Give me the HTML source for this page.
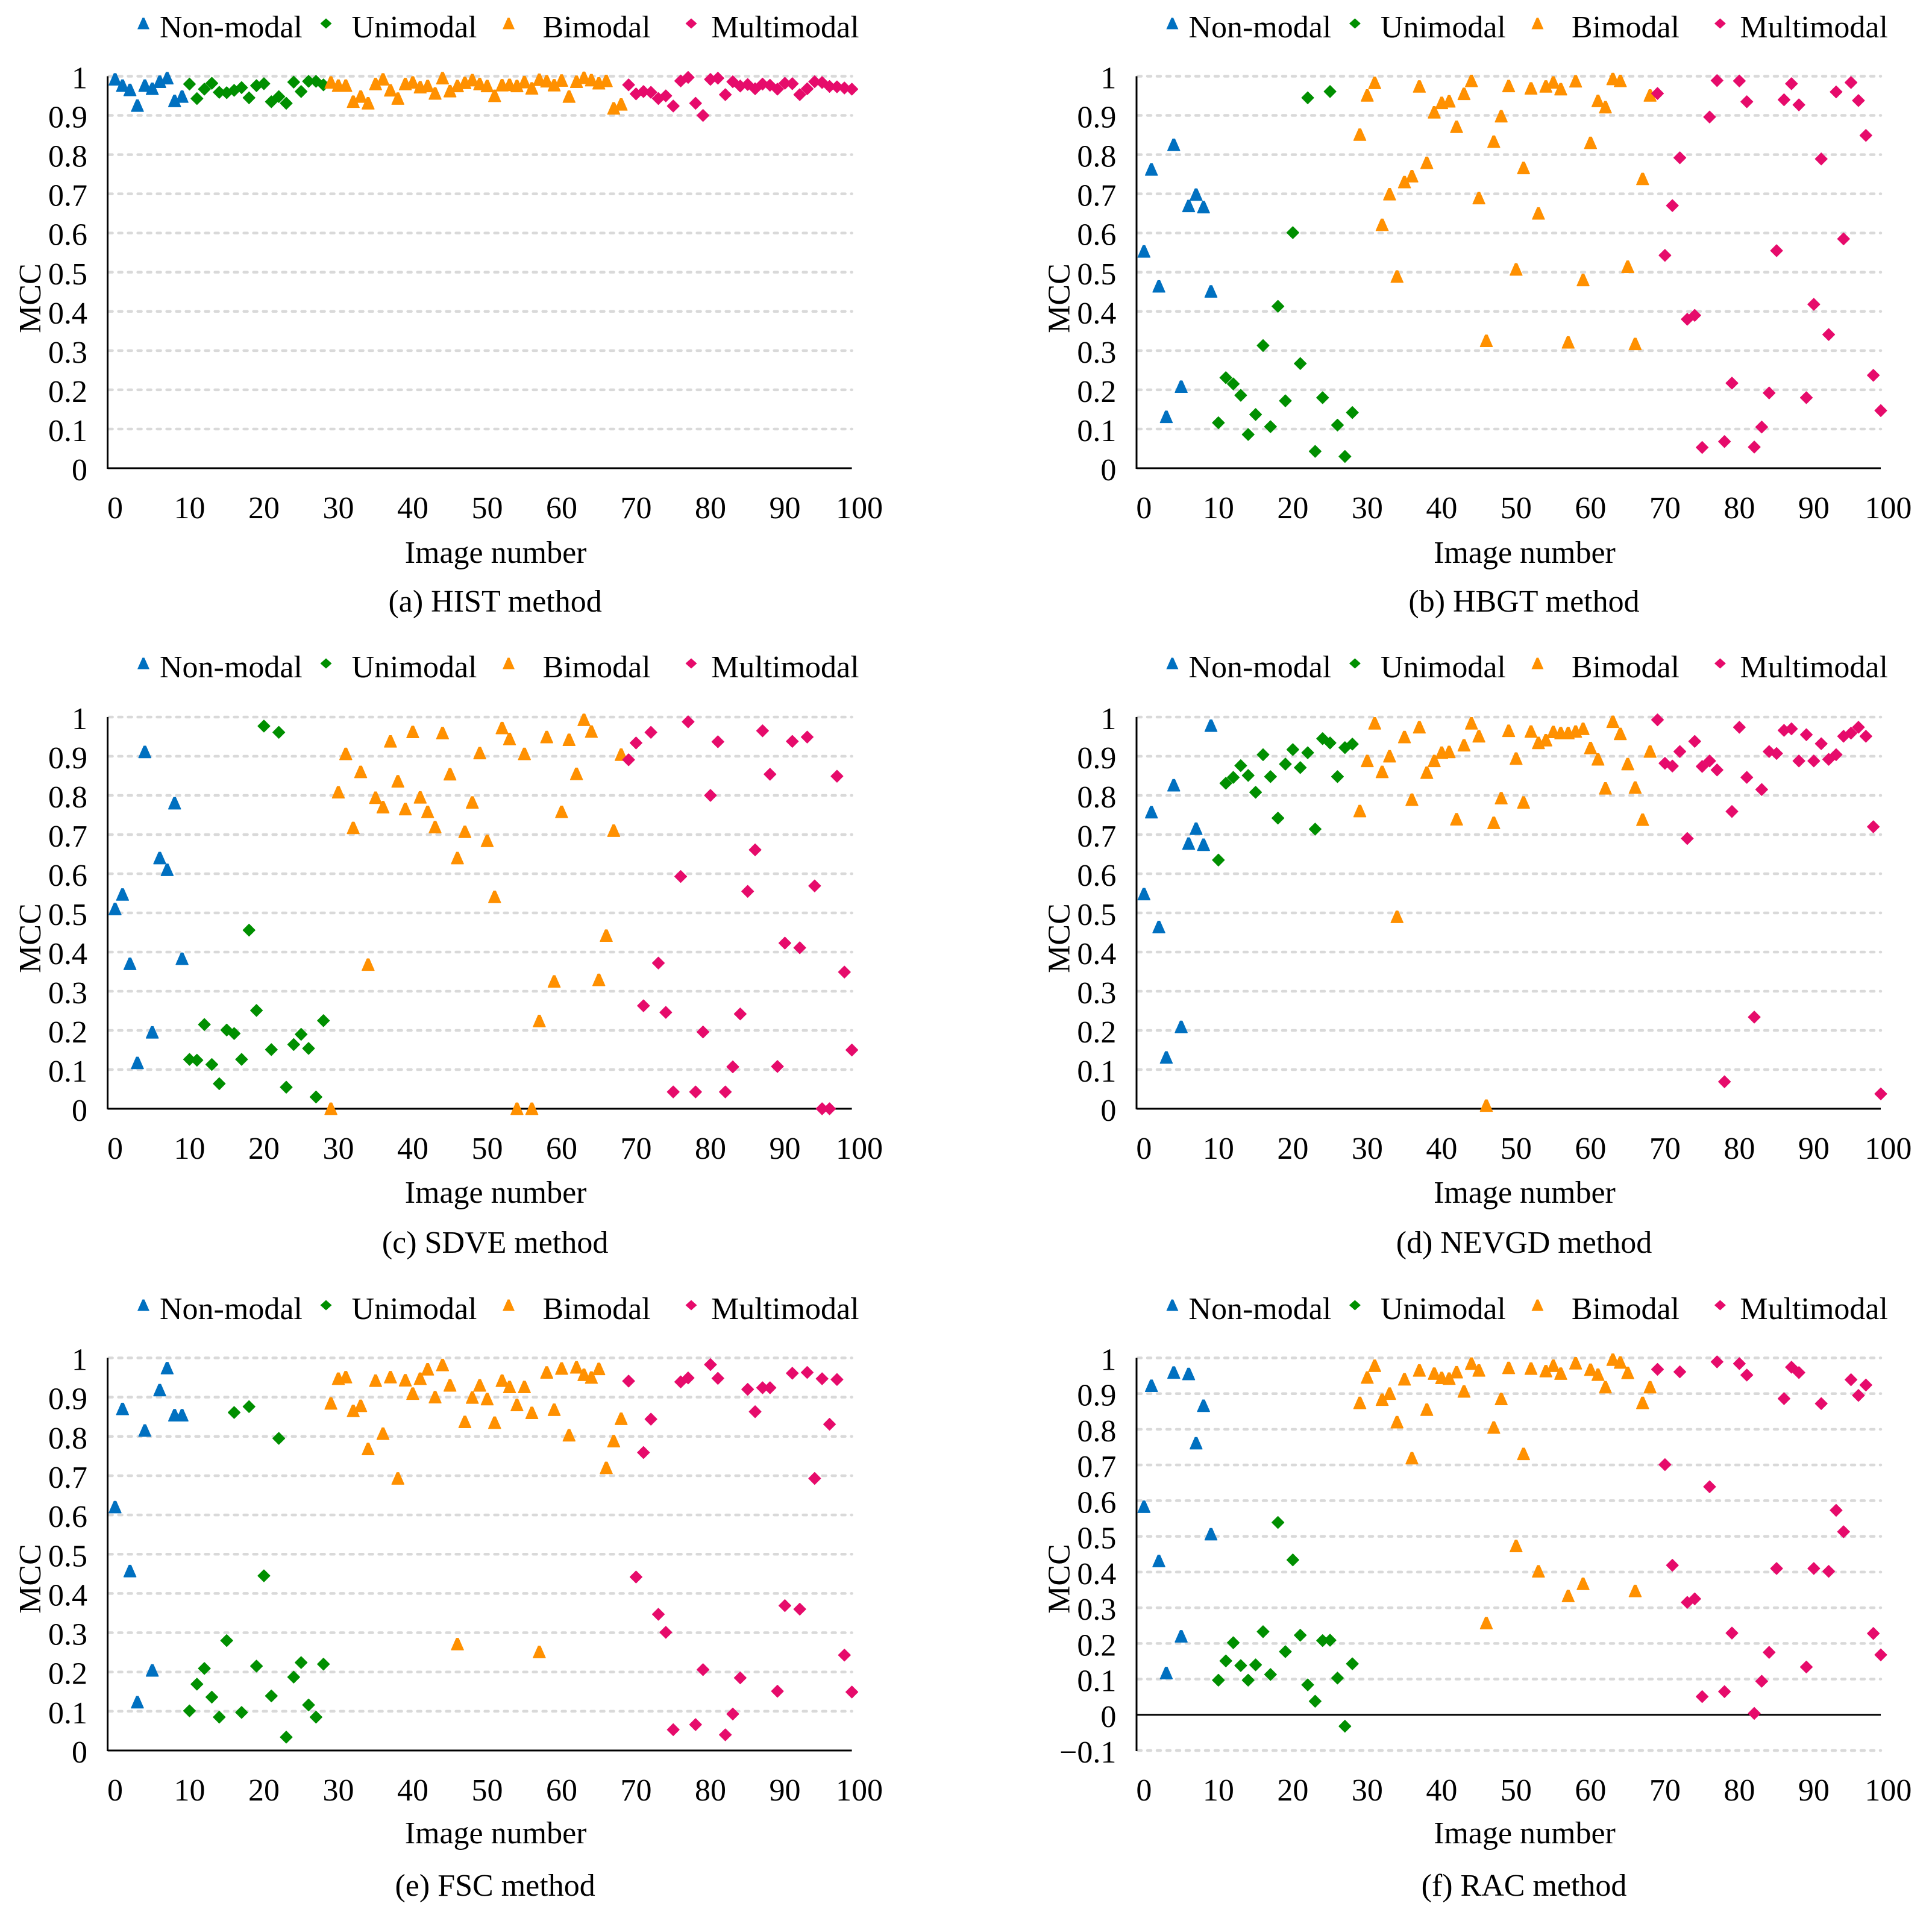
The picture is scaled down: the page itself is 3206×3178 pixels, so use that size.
<!DOCTYPE html>
<html lang="en">
<head>
<meta charset="utf-8">
<title>MCC per image for six thresholding methods</title>
<style>
html,body{margin:0;padding:0;background:#fff;}
svg{display:block;}
text{font-family:"Liberation Serif","Times New Roman",serif;font-size:52px;fill:#000;}
</style>
</head>
<body>
<svg id="figure" xmlns="http://www.w3.org/2000/svg" width="3206" height="3178" viewBox="0 0 3206 3178"></svg>
<script>
const xTickLabels = [0,10,20,30,40,50,60,70,80,90,100];
const yTicksStandard = [0,0.1,0.2,0.3,0.4,0.5,0.6,0.7,0.8,0.9,1];
const yTicksRac = [-0.1,0,0.1,0.2,0.3,0.4,0.5,0.6,0.7,0.8,0.9,1];

const seriesNames = ["Non-modal","Unimodal","Bimodal","Multimodal"];
const seriesFirstImage = [0,10,29,69];

const histNonModal = [0.992,0.976,0.965,0.925,0.976,0.968,0.986,0.995,0.937,0.948];
const histUnimodal = [0.98,0.943,0.967,0.982,0.959,0.958,0.964,0.971,0.945,0.976,0.981,0.935,0.948,0.931,0.985,0.961,0.987,0.987,0.978];
const histBimodal = [0.984,0.976,0.976,0.935,0.948,0.931,0.98,0.992,0.964,0.943,0.98,0.984,0.972,0.975,0.956,0.995,0.962,0.975,0.983,0.99,0.98,0.975,0.95,0.977,0.978,0.975,0.985,0.969,0.991,0.987,0.977,0.989,0.948,0.986,0.996,0.99,0.982,0.988,0.918,0.928];
const histMultimodal = [0.978,0.955,0.961,0.959,0.943,0.95,0.924,0.988,0.997,0.931,0.9,0.992,0.995,0.953,0.986,0.975,0.979,0.968,0.98,0.977,0.967,0.982,0.981,0.953,0.968,0.986,0.984,0.974,0.973,0.97,0.967];

const hbgtNonModal = [0.553,0.762,0.464,0.131,0.825,0.208,0.669,0.698,0.666,0.451];
const hbgtUnimodal = [0.116,0.231,0.215,0.186,0.086,0.137,0.313,0.106,0.413,0.172,0.601,0.267,0.945,0.043,0.18,0.961,0.11,0.03,0.142];
const hbgtBimodal = [0.851,0.951,0.983,0.621,0.699,0.489,0.73,0.745,0.974,0.779,0.908,0.932,0.936,0.871,0.955,0.988,0.689,0.325,0.833,0.898,0.975,0.507,0.766,0.969,0.65,0.974,0.984,0.967,0.321,0.987,0.48,0.83,0.937,0.921,0.993,0.988,0.514,0.317,0.738,0.951];
const hbgtMultimodal = [0.956,0.543,0.67,0.792,0.38,0.39,0.053,0.896,0.989,0.068,0.217,0.988,0.935,0.054,0.105,0.192,0.555,0.94,0.981,0.927,0.18,0.418,0.789,0.341,0.96,0.585,0.984,0.938,0.849,0.237,0.147];

const sdveNonModal = [0.51,0.547,0.37,0.117,0.911,0.195,0.64,0.61,0.78,0.383];
const sdveUnimodal = [0.126,0.124,0.215,0.113,0.064,0.201,0.192,0.126,0.456,0.251,0.977,0.151,0.961,0.055,0.164,0.19,0.154,0.03,0.225];
const sdveBimodal = [0,0.808,0.906,0.717,0.86,0.368,0.794,0.77,0.938,0.836,0.765,0.962,0.795,0.758,0.719,0.959,0.854,0.64,0.707,0.782,0.908,0.684,0.541,0.972,0.944,0,0.906,0,0.224,0.949,0.325,0.758,0.942,0.855,0.993,0.963,0.329,0.442,0.71,0.904];
const sdveMultimodal = [0.891,0.934,0.263,0.961,0.372,0.246,0.043,0.593,0.988,0.043,0.196,0.8,0.937,0.043,0.107,0.242,0.555,0.661,0.965,0.854,0.108,0.423,0.938,0.411,0.949,0.569,0,0,0.849,0.349,0.15];

const nevgdNonModal = [0.548,0.757,0.464,0.131,0.826,0.209,0.677,0.715,0.674,0.978];
const nevgdUnimodal = [0.635,0.831,0.846,0.876,0.851,0.808,0.904,0.848,0.742,0.88,0.917,0.871,0.909,0.714,0.945,0.934,0.848,0.922,0.931];
const nevgdBimodal = [0.76,0.888,0.984,0.86,0.9,0.49,0.949,0.789,0.974,0.858,0.888,0.909,0.911,0.739,0.928,0.984,0.951,0.008,0.73,0.793,0.965,0.894,0.782,0.963,0.934,0.941,0.962,0.959,0.959,0.963,0.97,0.921,0.892,0.818,0.988,0.957,0.88,0.82,0.738,0.912];
const nevgdMultimodal = [0.993,0.882,0.875,0.912,0.69,0.938,0.874,0.888,0.865,0.069,0.759,0.974,0.846,0.234,0.815,0.912,0.907,0.966,0.97,0.888,0.955,0.888,0.932,0.892,0.904,0.951,0.959,0.974,0.951,0.72,0.038];

const fscNonModal = [0.62,0.87,0.457,0.123,0.815,0.204,0.918,0.974,0.854,0.854];
const fscUnimodal = [0.101,0.169,0.209,0.136,0.085,0.28,0.861,0.097,0.876,0.215,0.445,0.139,0.795,0.034,0.187,0.224,0.116,0.085,0.22];
const fscBimodal = [0.884,0.947,0.951,0.865,0.878,0.768,0.942,0.807,0.951,0.693,0.943,0.909,0.947,0.971,0.9,0.982,0.93,0.271,0.837,0.899,0.93,0.895,0.835,0.942,0.926,0.88,0.926,0.86,0.251,0.963,0.868,0.973,0.803,0.976,0.957,0.95,0.972,0.72,0.788,0.845];
const fscMultimodal = [0.941,0.442,0.759,0.844,0.347,0.301,0.053,0.939,0.949,0.066,0.206,0.983,0.948,0.04,0.093,0.185,0.92,0.863,0.924,0.924,0.151,0.369,0.961,0.36,0.963,0.693,0.947,0.831,0.945,0.243,0.149];

const racNonModal = [0.583,0.922,0.431,0.117,0.959,0.22,0.955,0.761,0.866,0.506];
const racUnimodal = [0.097,0.151,0.202,0.138,0.097,0.14,0.233,0.113,0.539,0.177,0.434,0.223,0.084,0.038,0.208,0.209,0.103,-0.032,0.143];
const racBimodal = [0.874,0.945,0.978,0.883,0.9,0.82,0.94,0.719,0.965,0.855,0.956,0.944,0.942,0.96,0.906,0.984,0.965,0.257,0.805,0.885,0.972,0.473,0.731,0.97,0.402,0.963,0.978,0.956,0.333,0.985,0.367,0.967,0.953,0.918,0.995,0.987,0.958,0.347,0.874,0.918];
const racMultimodal = [0.968,0.701,0.419,0.961,0.315,0.325,0.051,0.639,0.989,0.065,0.229,0.984,0.952,0.004,0.094,0.175,0.41,0.886,0.974,0.959,0.134,0.41,0.872,0.402,0.573,0.513,0.939,0.895,0.924,0.228,0.168];

const panelCaptions = ["(a) HIST method","(b) HBGT method","(c) SDVE method","(d) NEVGD method","(e) FSC method","(f) RAC method"];
const panelKeys = ["hist","hbgt","sdve","nevgd","fsc","rac"];
const panelSeries = [
  [histNonModal,histUnimodal,histBimodal,histMultimodal],
  [hbgtNonModal,hbgtUnimodal,hbgtBimodal,hbgtMultimodal],
  [sdveNonModal,sdveUnimodal,sdveBimodal,sdveMultimodal],
  [nevgdNonModal,nevgdUnimodal,nevgdBimodal,nevgdMultimodal],
  [fscNonModal,fscUnimodal,fscBimodal,fscMultimodal],
  [racNonModal,racUnimodal,racBimodal,racMultimodal]
];
const panelYTicks = [yTicksStandard,yTicksStandard,yTicksStandard,yTicksStandard,yTicksStandard,yTicksRac];

const SVG_NS = "http://www.w3.org/2000/svg";
const figure = document.getElementById("figure");
const seriesColors = ["#0070c0","#008f00","#ff9000","#e60b6b"];
const seriesShapes = ["triangle","diamond","triangle","diamond"];

function make(parent, tag, attrs, txt) {
  const el = document.createElementNS(SVG_NS, tag);
  for (const k in attrs) el.setAttribute(k, attrs[k]);
  if (txt !== undefined) el.textContent = txt;
  parent.appendChild(el);
  return el;
}

function markerPoints(shape, cx, cy, hw, hh) {
  if (shape === "triangle") {
    return (cx-1.6)+","+(cy-hh)+" "+(cx+1.6)+","+(cy-hh)+" "+(cx+hw)+","+(cy+hh)+" "+(cx-hw)+","+(cy+hh);
  }
  return (cx)+","+(cy-hh)+" "+(cx+hw)+","+(cy)+" "+(cx)+","+(cy+hh)+" "+(cx-hw)+","+(cy);
}

function formatTick(v) {
  if (v < 0) return "\u2212" + Math.abs(v);
  return String(v);
}

function drawPanel(p) {
  const col = p % 2;
  const row = Math.floor(p / 2);
  const left = col === 0 ? 178.6 : 1886;
  const plotWidth = 1235;
  const top = [126.5, 1190, 2253.5][row];
  const bottom = [777, 1840, 2905][row];
  const textShift = [0, 1062, 2125][row];
  const captionShift = [0, 1064, 2131][row];
  const legendShift = [0, 1062, 2127][row];
  const ticks = panelYTicks[p];
  const yMin = ticks[0];
  const yMax = ticks[ticks.length - 1];
  const xScale = function (i) { return left + (i + 1) * plotWidth / 100; };
  const yScale = function (v) { return bottom - (v - yMin) / (yMax - yMin) * (bottom - top); };
  const offsetX = left - 178.6;

  const g = make(figure, "g", {});
  
  

  const legend = make(g, "g", {});
  
  
  const legendMarkerX = [238, 541, 844, 1147];
  const legendTextX = [265, 583.5, 900.5, 1180];
  seriesNames.forEach(function (name, s) {
    const isTri = seriesShapes[s] === "triangle";
    const m = make(legend, "polygon", {
      points: markerPoints(seriesShapes[s], legendMarkerX[s] + offsetX, 39 + legendShift, isTri ? 10 : 9.5, isTri ? 9.5 : 8.5),
      fill: seriesColors[s]
    });
    
    
    const t = make(legend, "text", { x: legendTextX[s] + offsetX, y: 62 + legendShift }, name);
    
    
  });

  ticks.forEach(function (v) {
    if (v !== 0) {
      const gl = make(g, "line", {
        x1: left + 2, x2: left + plotWidth, y1: yScale(v), y2: yScale(v),
        stroke: "#d9d9d9", "stroke-width": 4.5, "stroke-linecap": "round", "stroke-dasharray": "6 10"
      });
      
      
    }
    const lbl = make(g, "text", { x: left - 33.6, y: yScale(v) + 20, "text-anchor": "end" }, formatTick(v));
    
    
  });

  const yAxis = make(g, "line", { x1: left, x2: left, y1: top, y2: bottom + 1, stroke: "#000", "stroke-width": 3 });
  
  
  const xAxis = make(g, "line", { x1: left, x2: left + plotWidth, y1: yScale(0), y2: yScale(0), stroke: "#000", "stroke-width": 3 });
  
  

  xTickLabels.forEach(function (v) {
    const lbl = make(g, "text", { x: xScale(v), y: bottom + 83, "text-anchor": "middle" }, String(v));
    
    
  });

  const yTitleX = left - 111.6;
  const yTitleY = 495 + textShift;
  const yTitle = make(g, "text", {
    x: yTitleX, y: yTitleY, "text-anchor": "middle",
    transform: "rotate(-90 " + yTitleX + " " + yTitleY + ")"
  }, "MCC");
  
  

  const xTitle = make(g, "text", { x: left + 644, y: 934 + textShift, "text-anchor": "middle" }, "Image number");
  
  

  const caption = make(g, "text", { x: left + 643, y: 1015 + captionShift, "text-anchor": "middle" }, panelCaptions[p]);
  
  

  panelSeries[p].forEach(function (values, s) {
    const sg = make(g, "g", { fill: seriesColors[s], stroke: seriesColors[s], "stroke-width": 1.5, "stroke-linejoin": "round" });
    
    
    const isTri = seriesShapes[s] === "triangle";
    values.forEach(function (v, k) {
      const cx = xScale(seriesFirstImage[s] + k);
      const cy = yScale(v);
      const pt = make(sg, "polygon", { points: markerPoints(seriesShapes[s], cx, cy, isTri ? 10 : 9.8, isTri ? 9.6 : 9.8) });
      
      
    });
  });
}

panelKeys.forEach(function (key, p) { drawPanel(p); });
</script>
</body>
</html>
